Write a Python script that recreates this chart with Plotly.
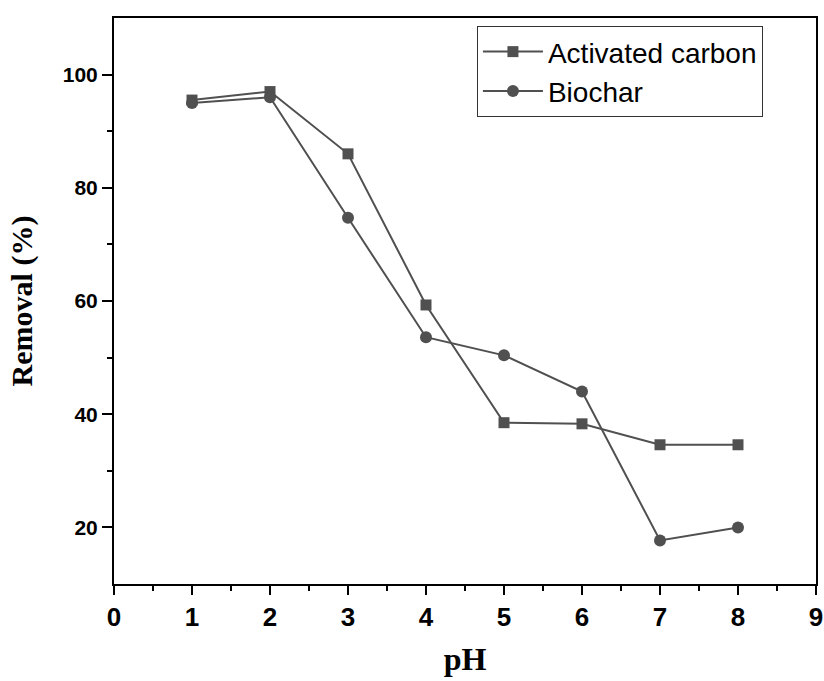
import plotly.graph_objects as go

ph = [1, 2, 3, 4, 5, 6, 7, 8]
activated_carbon = [95.5, 97.0, 86.0, 59.3, 38.5, 38.3, 34.6, 34.6]
biochar = [95.0, 96.0, 74.7, 53.6, 50.4, 44.0, 17.7, 20.0]

x_ticks = [0, 1, 2, 3, 4, 5, 6, 7, 8, 9]
y_ticks = [20, 40, 60, 80, 100]

gray = "#505050"

fig = go.Figure()
fig.add_trace(go.Scatter(
    x=ph, y=activated_carbon, name="Activated carbon", mode="lines+markers",
    line=dict(color=gray, width=2),
    marker=dict(symbol="square", size=11, color=gray),
))
fig.add_trace(go.Scatter(
    x=ph, y=biochar, name="Biochar", mode="lines+markers",
    line=dict(color=gray, width=2),
    marker=dict(symbol="circle", size=12, color=gray),
))

fig.update_layout(
    width=824, height=681,
    margin=dict(l=114, r=8, t=18, b=97),
    paper_bgcolor="white", plot_bgcolor="white",
    showlegend=True,
    legend=dict(
        x=0.517, y=0.986, xanchor="left", yanchor="top",
        bordercolor="#333333", borderwidth=1, bgcolor="white",
        font=dict(family="Liberation Sans, Arial", size=28, color="black"),
        tracegroupgap=0, itemwidth=60,
    ),
)

fig.update_xaxes(
    range=[0, 9], tickvals=x_ticks, ticktext=[str(v) for v in x_ticks],
    showline=True, linecolor="black", linewidth=2, mirror=True,
    ticks="outside", ticklen=9, tickwidth=2, tickcolor="black",
    minor=dict(dtick=0.5, ticks="outside", ticklen=5, tickwidth=2, tickcolor="black"),
    showgrid=False, zeroline=False, ticklabelstandoff=0, automargin=False,
    tickfont=dict(family="Liberation Sans, Arial", size=26, color="black", weight="bold"),
    title=dict(text="pH", standoff=16,
               font=dict(family="Liberation Serif, Times New Roman", size=32, color="black", weight="bold")),
)
fig.update_yaxes(
    range=[10, 110], tickvals=y_ticks, ticktext=[str(v) for v in y_ticks],
    showline=True, linecolor="black", linewidth=2, mirror=True,
    ticks="outside", ticklen=10, tickwidth=2, tickcolor="black",
    minor=dict(tickvals=[30, 50, 70, 90], ticks="outside", ticklen=5, tickwidth=2, tickcolor="black"),
    showgrid=False, zeroline=False, automargin=False,
    tickfont=dict(family="Liberation Sans, Arial", size=21, color="black", weight="bold"),
    title=dict(text="Removal (%)", standoff=21,
               font=dict(family="Liberation Serif, Times New Roman", size=30, color="black", weight="bold")),
)

fig.write_html("out.html")
